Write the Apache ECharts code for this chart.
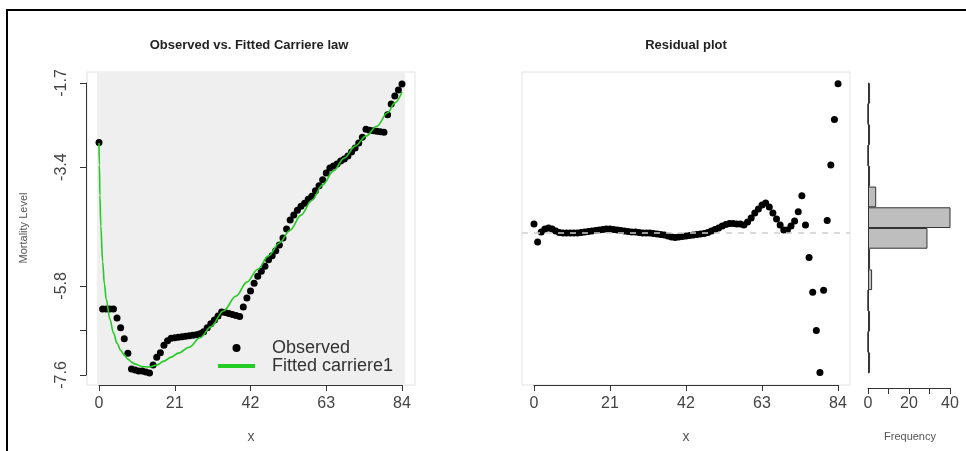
<!DOCTYPE html>
<html><head><meta charset="utf-8">
<script src="https://cdn.jsdelivr.net/npm/echarts@6.0.0/dist/echarts.min.js"></script>
<style>html,body{margin:0;padding:0;background:#fff}#c{width:966px;height:451px}</style>
</head><body><div id="c"></div>
<script>
// ---- data ----
const ages = [0,1,2,3,4,5,6,7,8,9,10,11,12,13,14,15,16,17,18,19,20,21,22,23,24,25,26,27,28,29,30,31,32,33,34,35,36,37,38,39,40,41,42,43,44,45,46,47,48,49,50,51,52,53,54,55,56,57,58,59,60,61,62,63,64,65,66,67,68,69,70,71,72,73,74,75,76,77,78,79,80,81,82,83,84];
const observed = [-2.90,-6.25,-6.25,-6.25,-6.25,-6.43,-6.63,-6.85,-7.14,-7.46,
  -7.48,-7.50,-7.50,-7.52,-7.54,-7.38,-7.22,-7.13,-6.98,-6.89,
  -6.84,-6.83,-6.82,-6.81,-6.80,-6.79,-6.78,-6.77,-6.75,-6.71,
  -6.63,-6.55,-6.47,-6.39,-6.31,-6.32,-6.34,-6.36,-6.38,-6.40,
  -6.21,-6.03,-5.89,-5.73,-5.59,-5.49,-5.39,-5.26,-5.18,-5.08,
  -4.96,-4.82,-4.64,-4.46,-4.36,-4.26,-4.18,-4.12,-4.04,-3.98,
  -3.87,-3.77,-3.65,-3.51,-3.41,-3.37,-3.33,-3.27,-3.23,-3.17,
  -3.09,-3.01,-2.91,-2.79,-2.63,-2.65,-2.66,-2.67,-2.68,-2.69,
  -2.34,-2.12,-1.96,-1.84,-1.72];
const fittedAges = [0,0.1,0.25,0.5,1,1.5,2,3,4,5,6,7,8,9,10,12,14,16,18,20,22,25,28,31,34.5,38,41,44,47,50,53,56,59,62,65,68,71,74,77,80,82,84];
const fittedValues = [-2.91,-3.35,-3.96,-4.58,-5.30,-5.75,-6.05,-6.45,-6.73,-6.94,
  -7.08,-7.18,-7.26,-7.32,-7.36,-7.41,-7.42,-7.38,-7.30,-7.22,
  -7.14,-7.02,-6.83,-6.61,-6.29,-5.99,-5.71,-5.45,-5.18,-4.92,
  -4.66,-4.36,-4.06,-3.75,-3.47,-3.21,-2.97,-2.77,-2.57,-2.30,-2.10,-1.88];
const residuals = [0.225,-0.225,0.025,0.10,0.125,0.10,0.05,0.01,0,0,
  0,0,0,0.01,0.025,0.04,0.05,0.06,0.075,0.09,
  0.10,0.10,0.09,0.075,0.06,0.05,0.04,0.025,0.025,0.01,
  0,0,0,-0.01,-0.025,-0.04,-0.05,-0.075,-0.10,-0.11,
  -0.10,-0.09,-0.075,-0.06,-0.05,-0.04,-0.025,-0.01,0.01,0.05,
  0.09,0.125,0.175,0.21,0.24,0.24,0.225,0.225,0.20,0.275,
  0.375,0.50,0.60,0.70,0.75,0.65,0.50,0.35,0.20,0.075,
  0.075,0.175,0.30,0.53,0.93,0.20,-0.61,-1.48,-2.44,-3.49,
  -1.43,0.31,1.70,2.84,3.73];
const histBins = ['3.75 to 3.23','3.23 to 2.72','2.72 to 2.20','2.20 to 1.68','1.68 to 1.16','1.16 to 0.64','0.64 to 0.13','0.13 to -0.39','-0.39 to -0.91','-0.91 to -1.43','-1.43 to -1.95','-1.95 to -2.46','-2.46 to -2.98','-2.98 to -3.50'];
const histCounts = [1,0,1,0,1,4,44,29,1,2,0,1,0,1];
const xTicks = [0,21,42,63,84];
const yTickValues = [-7.6,-6.7,-5.8,-3.4,-1.7];
const yTickLabels = [-7.6,-5.8,-3.4,-1.7];
const freqTicks = [0,10,20,30,40];
const freqLabels = [0,20,40];

// ---- chart ----
const FONT = 'Liberation Sans, Arial, sans-serif';
const chart = echarts.init(document.getElementById('c'), null, {renderer:'canvas'});
const axisLineStyle = {color:'#333', width:1};
const tickAxis = (grid, min, max, interval, offset, labelShow) => ({
  gridIndex: grid, type:'value', min, max, interval, offset,
  axisLine:{show:true, lineStyle:axisLineStyle},
  axisTick:{show:true, length:6, lineStyle:axisLineStyle},
  axisLabel:{show:true, fontSize:16, color:'#444', fontFamily:FONT, margin:8,
    formatter: v => labelShow.includes(v) ? String(v) : ''},
  splitLine:{show:false}
});
const hidden = (grid, extra) => Object.assign({gridIndex:grid, type:'value', show:false, splitLine:{show:false}}, extra||{});

const option = {
  animation:false,
  backgroundColor:'#fff',
  grid:[
    {left:87, top:72, width:328, height:313, show:true, backgroundColor:'#fff', borderColor:'#e2e2e2', borderWidth:1}, //0 left data
    {left:97, top:73, width:308, height:311, show:true, backgroundColor:'#efefef', borderWidth:0}, //1 gray panel
    {left:99, top:72, width:303, height:313}, //2 left x axis
    {left:86, top:83, width:10, height:292}, //3 left y axis
    {left:522, top:72, width:328, height:313, show:true, backgroundColor:'#fff', borderColor:'#e2e2e2', borderWidth:1}, //4 residual data
    {left:534, top:72, width:304, height:313}, //5 residual x axis
    {left:868, top:83, width:82, height:290} //6 histogram
  ],
  xAxis:[
    hidden(0,{min:-3.33, max:87.6}),
    hidden(1,{min:0,max:1}),
    tickAxis(2, 0, 84, 21, 3, xTicks),
    hidden(3,{min:0,max:1}),
    hidden(4,{min:-3.316, max:87.3}),
    tickAxis(5, 0, 84, 21, 3, xTicks),
    tickAxis(6, 0, 40, 10, 15, freqLabels)
  ],
  yAxis:[
    hidden(0,{min:-7.781, max:-1.478}),
    hidden(1,{min:0,max:1}),
    hidden(2,{min:0,max:1}),
    {gridIndex:3, type:'value', min:-7.6, max:-1.7, position:'left',
      axisLine:{show:true, lineStyle:axisLineStyle},
      axisTick:{show:true, length:6, lineStyle:axisLineStyle, customValues:yTickValues},
      axisLabel:{show:true, rotate:90, fontSize:16, color:'#444', fontFamily:FONT, margin:16, customValues:yTickLabels,
        formatter: v => String(v)},
      splitLine:{show:false}},
    hidden(4,{min:-3.8, max:4.025}),
    hidden(5,{min:0,max:1}),
    {gridIndex:6, type:'category', data:histBins, inverse:true,
      axisLine:{show:true, lineStyle:axisLineStyle}, axisTick:{show:false}, axisLabel:{show:false}, splitLine:{show:false}}
  ],
  legend:{
    data:[{name:'Observed', icon:'circle'}, {name:'Fitted carriere1', icon:'path://M0 0H37V4H0Z'}],
    orient:'vertical', left:218, top:339, itemWidth:37, itemHeight:8, itemGap:0, padding:0,
    selectedMode:false,
    textStyle:{fontSize:18, color:'#333', fontFamily:FONT, padding:[0,0,0,12]}
  },
  series:[
    {name:'Observed', type:'scatter', xAxisIndex:0, yAxisIndex:0,
      data: ages.map((a,i)=>[a, observed[i]]), symbolSize:7, itemStyle:{color:'#000', opacity:1}, z:3},
    {name:'Fitted carriere1', type:'line', xAxisIndex:0, yAxisIndex:0,
      data: fittedAges.map((a,i)=>[a, fittedValues[i]]), showSymbol:false, symbol:'none',
      smooth:0.35, smoothMonotone:'x', lineStyle:{color:'#22cc22', width:1.6}, itemStyle:{color:'#22cc22'}, z:4},
    {name:'Residuals', type:'scatter', xAxisIndex:4, yAxisIndex:4,
      data: ages.map((a,i)=>[a, residuals[i]]), symbolSize:7, itemStyle:{color:'#000', opacity:1}, z:3,
      markLine:{silent:true, symbol:'none', label:{show:false},
        lineStyle:{color:'#cfcfcf', type:[6,6], width:1.5}, data:[{yAxis:0}]}},
    {name:'Histogram', type:'bar', xAxisIndex:6, yAxisIndex:6, data:histCounts,
      barCategoryGap:'0%', itemStyle:{color:'#bebebe', borderColor:'#333', borderWidth:1}}
  ],
  graphic:[
    {type:'rect', silent:true, z:100, shape:{x:7, y:10, width:980, height:470},
      style:{fill:'none', stroke:'#000', lineWidth:2}},
    {type:'text', silent:true, x:249, y:45, style:{text:'Observed vs. Fitted Carriere law', fontSize:13, fontWeight:'bold', fontFamily:FONT, fill:'#222', align:'center', verticalAlign:'middle'}},
    {type:'text', silent:true, x:686, y:45, style:{text:'Residual plot', fontSize:13, fontWeight:'bold', fontFamily:FONT, fill:'#222', align:'center', verticalAlign:'middle'}},
    {type:'text', silent:true, x:24, y:228, rotation:Math.PI/2, style:{text:'Mortality Level', fontSize:11, fontFamily:FONT, fill:'#555', align:'center', verticalAlign:'middle'}},
    {type:'text', silent:true, x:251, y:437, style:{text:'x', fontSize:14, fontFamily:FONT, fill:'#555', align:'center', verticalAlign:'middle'}},
    {type:'text', silent:true, x:686, y:437, style:{text:'x', fontSize:14, fontFamily:FONT, fill:'#555', align:'center', verticalAlign:'middle'}},
    {type:'text', silent:true, x:910, y:437, style:{text:'Frequency', fontSize:11, fontFamily:FONT, fill:'#555', align:'center', verticalAlign:'middle'}}
  ]
};
chart.setOption(option);
</script>
</body></html>
